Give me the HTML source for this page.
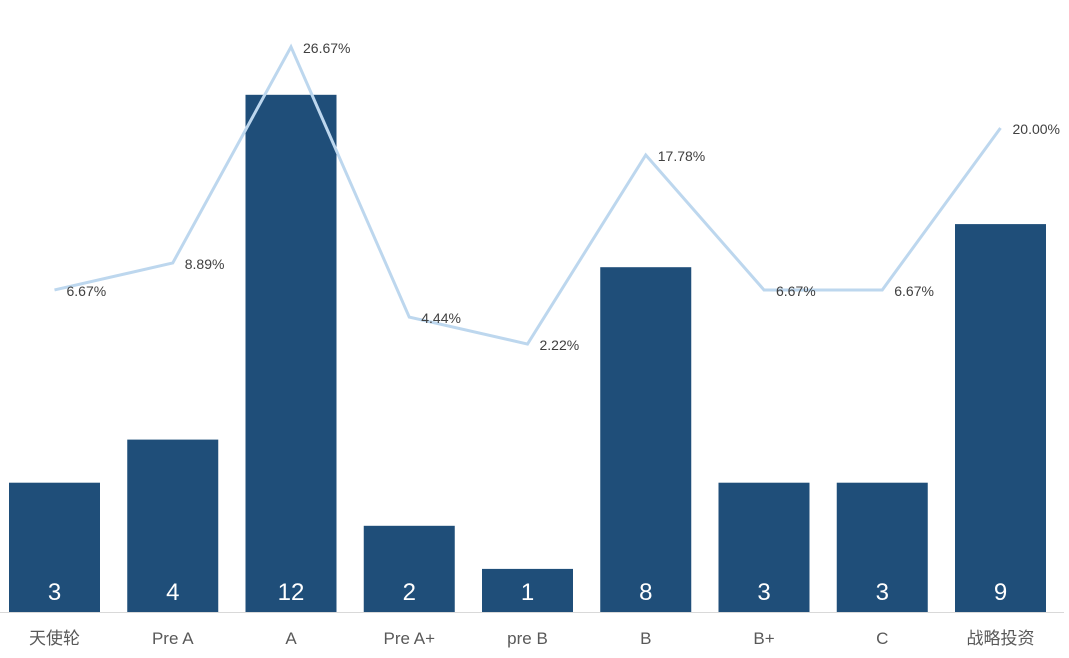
<!DOCTYPE html>
<html><head><meta charset="utf-8"><style>
html,body{margin:0;padding:0;background:#fff;}
svg{display:block;font-family:"Liberation Sans","Noto Sans CJK SC",sans-serif;}
</style></head><body>
<svg id="chart" width="1069" height="658" viewBox="0 0 1069 658">
<line x1="0" y1="612.5" x2="1064" y2="612.5" stroke="#d9d9d9" stroke-width="1"/>
<g id="bars"></g>
<g id="line"></g>
<g id="xlabels"></g>
</svg>
<script>
const categories = ["天使轮","Pre A","A","Pre A+","pre B","B","B+","C","战略投资"];
const counts = [3,4,12,2,1,8,3,3,9];
const percents = [6.67,8.89,26.67,4.44,2.22,17.78,6.67,6.67,20.00];

const NS = "http://www.w3.org/2000/svg";
const baseY = 612, unitH = 43.1, step = 118.25, x0 = 54.5, barW = 91;
const pctZero = 371, pctScale = 12.15;
function xc(i){ return x0 + step*i; }
function yBar(v){ return baseY - v*unitH; }
function yPct(p){ return pctZero - p*pctScale; }
function mk(tag, attrs, parent){
  const e = document.createElementNS(NS, tag);
  for (const k in attrs) e.setAttribute(k, attrs[k]);
  parent.appendChild(e); return e;
}
const gb = document.getElementById("bars");
const gl = document.getElementById("line");
const gx = document.getElementById("xlabels");
counts.forEach((v,i)=>{
  const r = mk("rect",{x:xc(i)-barW/2,y:yBar(v),width:barW,height:v*unitH,fill:"#1f4e79"},gb);
  
  
  const t = mk("text",{x:xc(i),y:baseY-12,"text-anchor":"middle","font-size":"24",fill:"#fff"},gb);
  t.textContent = v;
  
  
  const c = mk("text",{x:xc(i),y:644,"text-anchor":"middle","font-size":"17",fill:"#595959"},gx);
  c.textContent = categories[i];
  
  
});
const pts = percents.map((p,i)=>xc(i)+","+yPct(p)).join(" ");
const pl = mk("polyline",{points:pts,fill:"none",stroke:"#bdd7ee","stroke-width":"3","stroke-linejoin":"miter"},gl);


percents.forEach((p,i)=>{
  const t = mk("text",{x:xc(i)+12,y:yPct(p)+6,"font-size":"14",fill:"#404040"},gl);
  t.textContent = p.toFixed(2)+"%";
  
  
});
</script>
</body></html>
